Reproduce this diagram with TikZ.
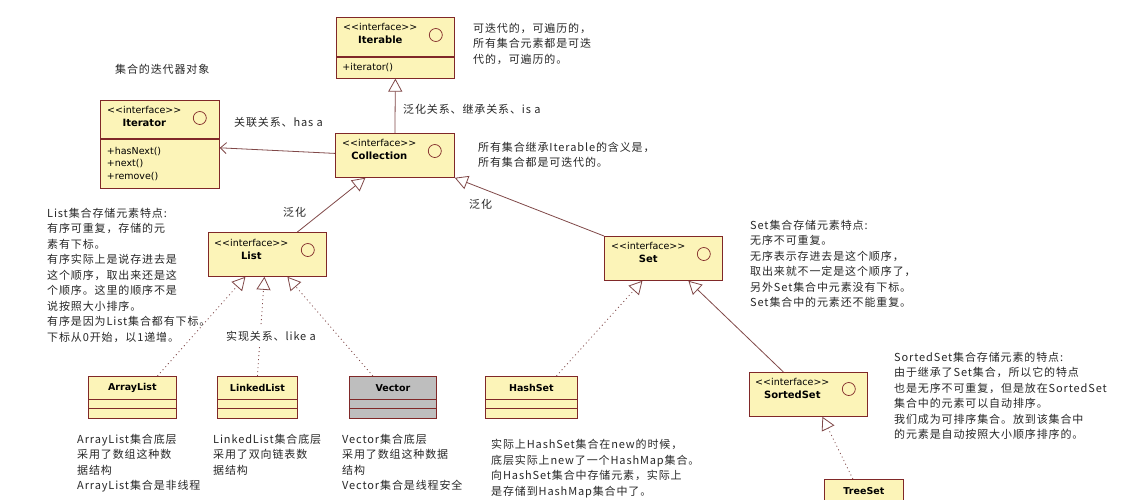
\documentclass[tikz,border=0pt]{standalone}
\usepackage{fontspec}
\setmainfont{DejaVu Sans}
\newfontfamily\cjk[LetterSpace=8]{Noto Sans CJK SC}
\usepackage{xcolor}
\definecolor{umlline}{RGB}{128,40,40}
\definecolor{umlfill}{RGB}{252,244,184}
\definecolor{arrline}{RGB}{128,72,72}
\definecolor{notetext}{RGB}{40,40,40}
\definecolor{vecgray}{RGB}{190,190,190}
\usetikzlibrary{arrows.meta,positioning}

\begin{document}
\begin{tikzpicture}[x=1pt,y=-1pt,
  hdr/.style={draw=umlline,fill=umlfill,line width=0.8pt,anchor=north west,inner sep=0pt,
    minimum width=118pt,minimum height=44pt},
  opsbox/.style={hdr,inner xsep=6pt,text width=106pt,align=left,font=\fontsize{9.5}{12.5}\selectfont},
  clsbox/.style={hdr,minimum height=23pt,font=\fontsize{9.5}{10}\selectfont\bfseries},
  comp/.style={draw=umlline,line width=0.8pt},
  stereo/.style={anchor=north west,align=center,inner sep=0pt,font=\fontsize{9.5}{13}\selectfont},
  lolly/.style={circle,draw=umlline,line width=0.7pt,minimum size=13pt,inner sep=0pt},
  note/.style={anchor=north west,align=left,inner sep=0pt,text=notetext,
    font=\cjk\fontsize{11}{15.5}\selectfont},
  gen/.style={draw=arrline,line width=0.8pt,-{Triangle[open,length=13pt,width=14pt]}},
  real/.style={gen,dash pattern=on 1pt off 3pt},
  assoc/.style={draw=arrline,line width=0.8pt,-{Straight Barb[length=6pt,width=11pt]}}]
  \fill[white] (0,0) rectangle (1135,499);
  \useasboundingbox (0,0) rectangle (1135,499);

  % interfaces
  \node[hdr,minimum height=39pt] (iterable) at (336,17) {};
  \node[opsbox,minimum height=21pt] (iterable-ops) at (iterable.south west) {+iterator()};
  \node[stereo] (iterable-t) at ([shift={(7pt,-6pt)}]iterable.north west) {<{}<interface>{}>\\\textbf{\fontsize{10}{13}\selectfont Iterable}};
  \node[lolly] (iterable-o) at ([shift={(-19pt,-18pt)}]iterable.north east) {};

  \node[hdr,minimum width=119pt,minimum height=38pt] (iterator) at (100,100) {};
  \node[opsbox,minimum width=119pt,minimum height=49pt] (iterator-ops) at (iterator.south west) {+hasNext()\\+next()\\+remove()};
  \node[stereo] (iterator-t) at ([shift={(7pt,-6pt)}]iterator.north west) {<{}<interface>{}>\\\textbf{\fontsize{10}{13}\selectfont Iterator}};
  \node[lolly] (iterator-o) at ([shift={(-20pt,-18pt)}]iterator.north east) {};

  \node[hdr,minimum width=119pt] (coll) at (335,133) {};
  \node[stereo] (coll-t) at ([shift={(7pt,-6pt)}]coll.north west) {<{}<interface>{}>\\\textbf{\fontsize{10}{13}\selectfont Collection}};
  \node[lolly] (coll-o) at ([shift={(-20pt,-18pt)}]coll.north east) {};

  \node[hdr] (list) at (208,232) {};
  \node[stereo] (list-t) at ([shift={(6pt,-7pt)}]list.north west) {<{}<interface>{}>\\\textbf{\fontsize{10}{13}\selectfont List}};
  \node[lolly] (list-o) at ([shift={(-19pt,-18pt)}]list.north east) {};

  \node[hdr] (set) at (604,236) {};
  \node[stereo] (set-t) at ([shift={(7pt,-6pt)}]set.north west) {<{}<interface>{}>\\\textbf{\fontsize{10}{13}\selectfont Set}};
  \node[lolly] (set-o) at ([shift={(-19pt,-18pt)}]set.north east) {};

  \node[hdr] (sorted) at (749,372) {};
  \node[stereo] (sorted-t) at ([shift={(6pt,-6pt)}]sorted.north west) {<{}<interface>{}>\\\textbf{\fontsize{10}{13}\selectfont SortedSet}};
  \node[lolly] (sorted-o) at ([shift={(-19pt,-17pt)}]sorted.north east) {};

  % classes
  \node[clsbox,minimum width=88pt] (alist) at (88,376) {ArrayList};
  \node[clsbox,minimum width=80pt] (llist) at (217,376) {LinkedList};
  \node[clsbox,minimum width=87pt,fill=vecgray] (vec) at (349,376) {Vector};
  \node[clsbox,minimum width=92pt] (hset) at (485,376) {HashSet};
  \node[clsbox,minimum width=79pt] (tset) at (824,479) {TreeSet};
  \draw[comp,fill=umlfill] (alist.south west) rectangle ([yshift=-9pt]alist.south east)
    rectangle ([yshift=-19pt]alist.south west);
  \draw[comp,fill=umlfill] (llist.south west) rectangle ([yshift=-9pt]llist.south east)
    rectangle ([yshift=-19pt]llist.south west);
  \draw[comp,fill=vecgray] (vec.south west) rectangle ([yshift=-9pt]vec.south east)
    rectangle ([yshift=-19pt]vec.south west);
  \draw[comp,fill=umlfill] (hset.south west) rectangle ([yshift=-9pt]hset.south east)
    rectangle ([yshift=-19pt]hset.south west);

  % relations
  \draw[gen] (coll.north) -- (iterable-ops.south);
  \draw[assoc] ([yshift=2pt]coll.west) -- ([yshift=-9pt]iterator-ops.north east);
  \draw[gen] ([xshift=30pt]list.north) -- ([xshift=-29.5pt]coll.south);
  \draw[gen] (set.north west) -- (coll.south east);
  \draw[real] ([xshift=25pt]alist.north) -- ([xshift=-22pt]list.south);
  \draw[real] (llist.north) -- ([xshift=-3pt]list.south);
  \draw[real] ([xshift=-20pt]vec.north) -- ([xshift=20pt]list.south);
  \draw[real] ([xshift=25pt]hset.north) -- ([xshift=-21pt]set.south);
  \draw[gen] ([xshift=-25pt]sorted.north) -- ([xshift=25pt]set.south);
  \draw[real] ([xshift=-11pt]tset.north) -- ([xshift=14pt]sorted.south);

  % labels
  \node[note] (lbl-isa) at (403,104) {泛化关系、继承关系、is a};
  \node[note] (lbl-hasa) at (234,117) {关联关系、has a};
  \node[note] (lbl-gen1) at (283,207) {泛化};
  \node[note] (lbl-gen2) at (469,199) {泛化};
  \node[note,fill=white,inner xsep=1pt,inner ysep=5pt] (lbl-likea) at (225,326) {实现关系、like a};

  % notes
  \node[note] (n-iterable) at (473,23) {可迭代的，可遍历的，\\所有集合元素都是可迭\\代的，可遍历的。};
  \node[note] (n-iterator) at (115,64) {集合的迭代器对象};
  \node[note] (n-coll) at (478,142) {所有集合继承Iterable的含义是，\\所有集合都是可迭代的。};
  \node[note] (n-list) at (47,208) {List集合存储元素特点:\\有序可重复，存储的元\\素有下标。\\有序实际上是说存进去是\\这个顺序，取出来还是这\\个顺序。这里的顺序不是\\说按照大小排序。\\有序是因为List集合都有下标。\\下标从0开始，以1递增。};
  \node[note] (n-set) at (750,220) {Set集合存储元素特点:\\无序不可重复。\\无序表示存进去是这个顺序，\\取出来就不一定是这个顺序了，\\另外Set集合中元素没有下标。\\Set集合中的元素还不能重复。};
  \node[note] (n-sorted) at (894,352) {SortedSet集合存储元素的特点:\\由于继承了Set集合，所以它的特点\\也是无序不可重复，但是放在SortedSet\\集合中的元素可以自动排序。\\我们成为可排序集合。放到该集合中\\的元素是自动按照大小顺序排序的。};
  \node[note] (n-alist) at (77,434) {ArrayList集合底层\\采用了数组这种数\\据结构\\ArrayList集合是非线程};
  \node[note] (n-llist) at (213,434) {LinkedList集合底层\\采用了双向链表数\\据结构};
  \node[note] (n-vec) at (342,434) {Vector集合底层\\采用了数组这种数据\\结构\\Vector集合是线程安全};
  \node[note] (n-hset) at (491,439) {实际上HashSet集合在new的时候，\\底层实际上new了一个HashMap集合。\\向HashSet集合中存储元素，实际上\\是存储到HashMap集合中了。};
\end{tikzpicture}
\end{document}
